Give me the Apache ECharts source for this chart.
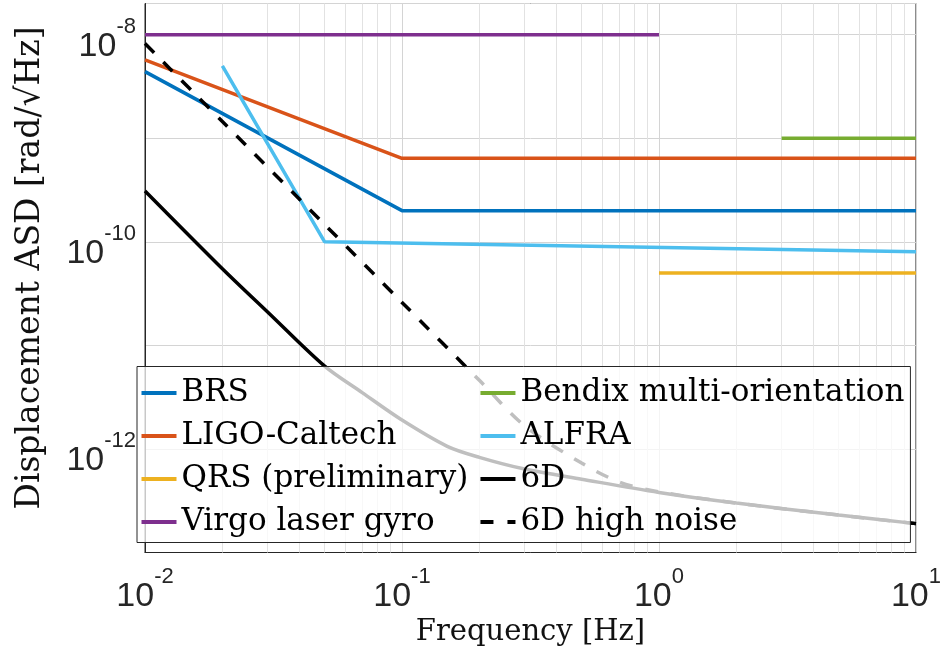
<!DOCTYPE html>
<html>
<head>
<meta charset="utf-8">
<script src="https://cdn.jsdelivr.net/npm/echarts@6/dist/echarts.min.js"></script>
<style>
  html, body { margin: 0; padding: 0; background: #fff; }
  #chart { width: 944px; height: 656px; }
</style>
</head>
<body>
<div id="chart"></div>
<script>
// Rotational sensor noise floors: amplitude spectral density vs frequency
const freqBRS = [0.01, 0.1, 10];
const asdBRS = [4.4e-9, 2.0e-10, 2.0e-10];

const freqLIGO = [0.01, 0.1, 10];
const asdLIGO = [5.7e-9, 6.4e-10, 6.4e-10];

const freqQRS = [1, 10];
const asdQRS = [5e-11, 5e-11];

const freqVirgo = [0.01, 1];
const asdVirgo = [1e-8, 1e-8];

const freqBendix = [3, 10];
const asdBendix = [1e-9, 1e-9];

const freqALFRA = [0.02, 0.05, 10];
const asdALFRA = [5e-9, 1e-10, 8e-11];

const freq6D = [0.01, 0.02, 0.03, 0.05, 0.07, 0.1, 0.15, 0.2, 0.3, 0.5, 1, 2, 5, 10];
const asd6D = [3.1e-10, 5.5e-11, 2.1e-11, 6.3e-12, 3.5e-12, 1.9e-12, 1.06e-12, 8.3e-13,
               6.4e-13, 5.1e-13, 3.8e-13, 3.0e-13, 2.3e-13, 1.9e-13];

const freq6DHigh = [0.01, 0.02, 0.05, 0.1, 0.2, 0.3, 0.5, 0.7, 1, 2, 5, 10];
const asd6DHigh = [8.2e-9, 1.45e-9, 1.47e-10, 2.6e-11, 4.6e-12, 1.67e-12, 7.3e-13,
                   4.8e-13, 3.85e-13, 3.0e-13, 2.3e-13, 1.9e-13];

const legendNames = ['BRS', 'LIGO-Caltech', 'QRS (preliminary)', 'Virgo laser gyro',
                     'Bendix multi-orientation', 'ALFRA', '6D', '6D high noise'];

// Minor grid positions (2..9 times each decade)
const xMinorGrid = [];
[0.01, 0.1, 1].forEach(d => { for (let m = 2; m <= 9; m++) xMinorGrid.push(+(m * d).toPrecision(3)); });
const yMinorGrid = [];
[1e-13, 1e-12, 1e-11, 1e-10, 1e-9, 1e-8].forEach(d => {
  for (let m = 2; m <= 9; m++) { const v = +(m * d).toPrecision(3); if (v < 2e-8) yMinorGrid.push(v); }
});

const pairs = (xs, ys) => xs.map((x, i) => [x, ys[i]]);

const tickFont = 'Liberation Sans, Arial, Helvetica, sans-serif';
const serifFont = 'DejaVu Serif, serif';
const richPow = {
  b: { fontSize: 34, fontFamily: tickFont, color: '#262626', lineHeight: 48, verticalAlign: 'bottom' },
  s: { fontSize: 22, fontFamily: tickFont, color: '#262626', lineHeight: 22, verticalAlign: 'top' }
};
function powLabel(v, evenOnly) {
  const lg = Math.log10(v);
  const e = Math.round(lg);
  if (Math.abs(lg - e) > 1e-6) return '';
  if (evenOnly && (((e % 2) + 2) % 2) !== 0) return '';
  return '{b|10}{s|' + e + '}';
}

// Legend keys: a plain bar, or two dashes for the dashed curve
const solidKey = 'path://M0,0H35V4H0Z';
const dashedKey = 'path://M0,0H13V4H0Z M27,0H35V4H27Z';

function lineSeries(name, xs, ys, color, extra) {
  return Object.assign({
    name: name,
    type: 'line',
    data: pairs(xs, ys),
    showSymbol: false,
    symbol: 'none',
    animation: false,
    lineStyle: { color: color, width: 3.5, cap: 'butt' },
    itemStyle: { color: color },
    z: 3
  }, extra || {});
}

const chart = echarts.init(document.getElementById('chart'), null, { renderer: 'canvas' });
chart.setOption({
  backgroundColor: '#ffffff',
  animation: false,
  grid: {
    left: 145, right: 27, top: 3.5, bottom: 103.5,
    show: true, borderColor: '#262626', borderWidth: 1, backgroundColor: 'transparent'
  },
  xAxis: {
    type: 'log', logBase: 10, min: 0.01, max: 10, interval: 1,
    name: 'Frequency [Hz]', nameLocation: 'middle', nameGap: 64,
    nameTextStyle: { fontFamily: serifFont, fontSize: 29, color: '#111' },
    axisLine: { show: true, onZero: false, lineStyle: { color: '#262626', width: 1 } },
    axisTick: { show: false },
    axisLabel: { margin: 13, formatter: v => powLabel(v, false), rich: richPow },
    splitLine: { show: true, lineStyle: { color: '#d4d4d4', width: 1 } }
  },
  yAxis: {
    type: 'log', logBase: 10, min: 1e-13, max: 2e-8, interval: 1,
    name: 'Displacement ASD [rad/√Hz]', nameLocation: 'middle', nameGap: 98,
    nameTextStyle: { fontFamily: serifFont, fontSize: 33, color: '#111', padding: [0, 0, 0, 20] },
    axisLine: { show: true, onZero: false, lineStyle: { color: '#262626', width: 1 } },
    axisTick: { show: false },
    axisLabel: { margin: 9, formatter: v => powLabel(v, true), rich: richPow, showMaxLabel: false,
                 padding: [10, 0, 0, 0] },
    splitLine: { show: true, lineStyle: { color: '#d4d4d4', width: 1 } }
  },
  legend: {
    data: legendNames.map(n => ({ name: n, icon: n === '6D high noise' ? dashedKey : solidKey })),
    orient: 'vertical',
    left: 137, top: 366.5, height: 170,
    padding: [11, 6, 5, 4.5],
    itemGap: 12,
    itemWidth: 35, itemHeight: 4,
    backgroundColor: 'rgba(255,255,255,0.75)',
    borderColor: '#262626', borderWidth: 1,
    z: 10,
    textStyle: { fontFamily: serifFont, fontSize: 31, color: '#000', lineHeight: 31 }
  },
  series: [
    {
      name: 'minor-grid', type: 'line', data: [], silent: true, z: 1,
      markLine: {
        silent: true, z: 1, animation: false,
        symbol: ['none', 'none'],
        label: { show: false },
        lineStyle: { color: '#e2e2e2', width: 1, type: 'solid' },
        emphasis: { disabled: true },
        data: xMinorGrid.map(v => ({ xAxis: v })).concat(yMinorGrid.map(v => ({ yAxis: v })))
      }
    },
    lineSeries('BRS', freqBRS, asdBRS, '#0072BD'),
    lineSeries('LIGO-Caltech', freqLIGO, asdLIGO, '#D95319'),
    lineSeries('QRS (preliminary)', freqQRS, asdQRS, '#EDB120'),
    lineSeries('Virgo laser gyro', freqVirgo, asdVirgo, '#7E2F8E'),
    lineSeries('Bendix multi-orientation', freqBendix, asdBendix, '#77AC30'),
    lineSeries('ALFRA', freqALFRA, asdALFRA, '#4DBEEE'),
    lineSeries('6D', freq6D, asd6D, '#000000', { smooth: 0.3 }),
    lineSeries('6D high noise', freq6DHigh, asd6DHigh, '#000000', {
      smooth: 0.3,
      lineStyle: { color: '#000000', width: 3.5, type: [13, 13], cap: 'butt' }
    })
  ]
});
</script>
</body>
</html>
